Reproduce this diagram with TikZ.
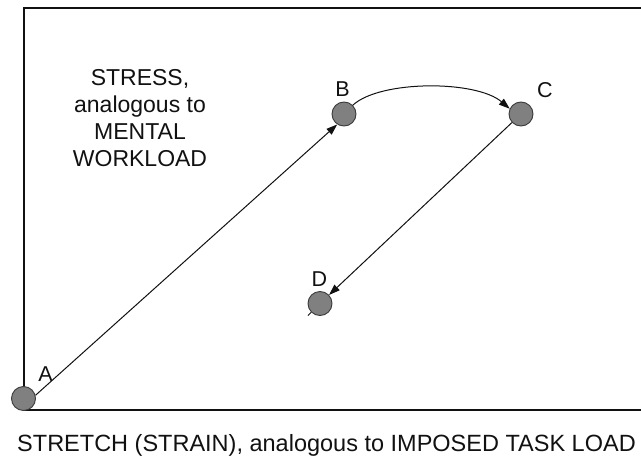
\documentclass[tikz,border=0pt]{standalone}
\usepackage{fontspec}
\setmainfont{Liberation Sans}
\usetikzlibrary{arrows.meta}
\definecolor{dotfill}{HTML}{808080}
\definecolor{dotline}{HTML}{3A3A3A}
\definecolor{ink}{HTML}{111111}
\tikzset{
  dot/.style={circle,minimum size=24pt,inner sep=0pt,fill=dotfill,draw=dotline,line width=0.9pt},
  lbl/.style={anchor=base,inner sep=0pt,font=\fontsize{21.5}{24}\selectfont,text=ink},
  arr/.style={draw=ink,line width=1pt,-{Triangle[length=11pt,width=7.5pt]}},
  plain/.style={draw=ink,line width=1pt},
  frame/.style={draw=ink,line width=1.6pt,line join=miter}
}
\begin{document}
\begin{tikzpicture}[x=1pt,y=-1pt]
\useasboundingbox (0,0) rectangle (641,458);
\draw[frame] (641,8) -- (24,8) -- (24,410) -- (641,410);
\node[dot] (A) at (23.5,398.5) {};
\node[dot] (B) at (344,114) {};
\node[dot] (C) at (521,114) {};
\node[dot] (D) at (320,303.5) {};
\coordinate (Dtail) at (308,315.5);
\node[lbl] (la) at (45.5,381) {A};
\node[lbl] (lb) at (342.5,96) {B};
\node[lbl] (lc) at (545,97) {C};
\node[lbl] (ld) at (319.5,286) {D};
\draw[arr] (A.15) -- (B.237);
\draw[arr] (B.45) .. controls (380,80) and (476,80) .. (C.155);
\draw[arr] (C) -- (D);
\draw[plain] (D) -- (Dtail);
\node[anchor=north,inner sep=0pt,align=center,font=\fontsize{23}{27}\selectfont,text=ink] (stress) at (140,69) {STRESS,\\analogous to\\MENTAL\\WORKLOAD};
\node[anchor=base,inner sep=0pt,font=\fontsize{23.5}{27}\selectfont,text=ink] (stretch) at (326.5,451) {STRETCH (STRAIN), analogous to IMPOSED TASK LOAD};
\end{tikzpicture}
\end{document}
